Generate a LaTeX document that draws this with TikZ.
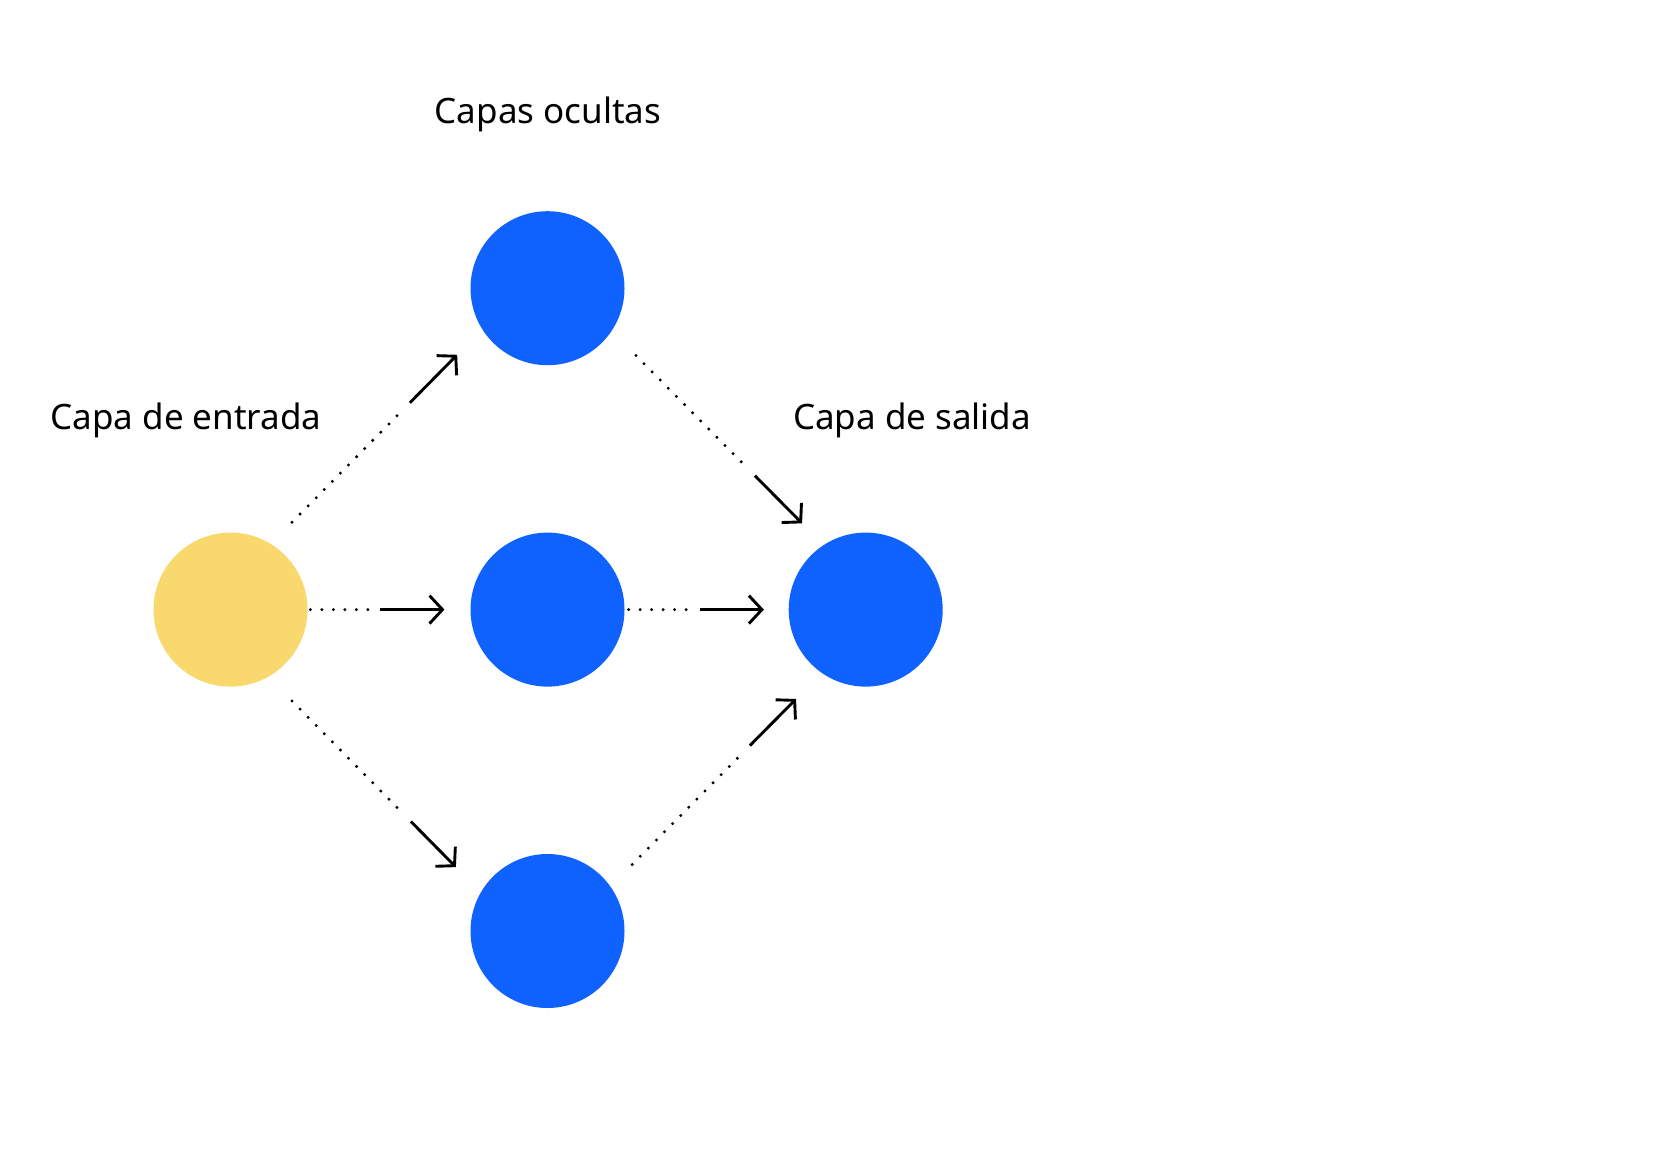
\documentclass[tikz,border=0pt]{standalone}
\usepackage{fontspec}
\setmainfont{Noto Sans}
\usetikzlibrary{calc,arrows.meta}
\definecolor{nblue}{HTML}{0F62FE}
\definecolor{nyellow}{HTML}{F9D96E}
\tikzset{
  neuron/.style={circle, minimum size=154pt, inner sep=0pt, draw=none},
  lbl/.style={font=\fontsize{35}{40}\selectfont, text=black, inner sep=0pt, anchor=base},
  dotline/.style={line width=3.3pt, line cap=round, dash pattern=on 0pt off 11.5pt, draw=black},
  solidarrow/.style={line width=2.9pt, draw=black, -{Straight Barb[length=13pt,width=28pt,line width=2.9pt]}}
}
% #1,#2 nodes; #3..#6 fractions; #7 vertical offset
\newcommand\connect[7]{%
  \draw[dotline] ($(#1.center)!#3!(#2.center)+(0,#7)$) -- ($(#1.center)!#4!(#2.center)+(0,#7)$);
  \draw[solidarrow] ($(#1.center)!#5!(#2.center)+(0,#7)$) -- ($(#1.center)!#6!(#2.center)+(0,#7)$);
}
\begin{document}
\begin{tikzpicture}[x=1pt,y=-1pt]
\useasboundingbox[fill=white] (0,0) rectangle (1680,1169);
\node[neuron, fill=nyellow] (in) at (230.5,609.6) {};
\node[neuron, fill=nblue] (h1) at (547.5,288.2) {};
\node[neuron, fill=nblue] (h2) at (547.5,609.6) {};
\node[neuron, fill=nblue] (h3) at (547.5,931) {};
\node[neuron, fill=nblue] (out) at (865.7,609.6) {};
\node[lbl] (lh) at (548,124) {Capas ocultas};
\node[lbl] (li) at (186,429) {Capa de entrada};
\node[lbl] (lo) at (912,429) {Capa de salida};
\connect{in}{h1}{0.194}{0.544}{0.566}{0.715}{-25}
\connect{in}{h2}{0.252}{0.44}{0.473}{0.675}{0}
\connect{in}{h3}{0.194}{0.544}{0.569}{0.711}{29}
\connect{h1}{out}{0.278}{0.627}{0.652}{0.80}{-22}
\connect{h2}{out}{0.255}{0.45}{0.478}{0.68}{0}
\connect{h3}{out}{0.266}{0.611}{0.636}{0.781}{19}
\end{tikzpicture}
\end{document}
